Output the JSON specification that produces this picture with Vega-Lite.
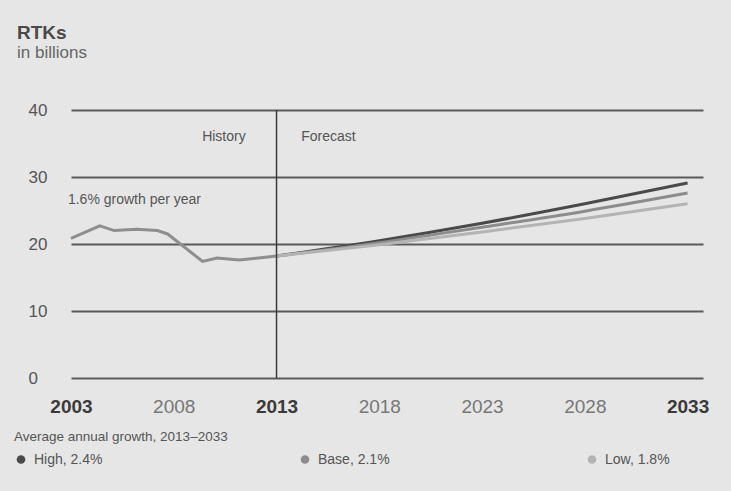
{
  "$schema": "https://vega.github.io/schema/vega-lite/v6.json",
  "width": 632,
  "height": 268,
  "autosize": {"type": "none"},
  "padding": {"left": 71, "top": 110, "right": 28, "bottom": 113},
  "background": "#e6e6e6",
  "config": {
    "view": {"stroke": null},
    "font": "Liberation Sans",
    "text": {"font": "Liberation Sans"}
  },
  "title": {
    "text": "RTKs",
    "subtitle": "in billions",
    "anchor": "start",
    "dx": 3,
    "offset": 40,
    "fontSize": 19,
    "fontWeight": "bold",
    "color": "#4a4a4a",
    "subtitleFontSize": 17,
    "subtitleColor": "#666666",
    "subtitlePadding": 2
  },
  "datasets": {
    "history": [
      {"year": 2003.0, "rtk": 20.85},
      {"year": 2004.4, "rtk": 22.7},
      {"year": 2005.1, "rtk": 22.0},
      {"year": 2006.2, "rtk": 22.2},
      {"year": 2007.2, "rtk": 22.0},
      {"year": 2007.7, "rtk": 21.5},
      {"year": 2009.4, "rtk": 17.4},
      {"year": 2010.1, "rtk": 17.9},
      {"year": 2011.2, "rtk": 17.6},
      {"year": 2013.0, "rtk": 18.2}
    ],
    "forecast": [
      {"year": 2013, "scenario": "High, 2.4%", "rtk": 18.2},
      {"year": 2018, "scenario": "High, 2.4%", "rtk": 20.5},
      {"year": 2023, "scenario": "High, 2.4%", "rtk": 23.1},
      {"year": 2028, "scenario": "High, 2.4%", "rtk": 26.0},
      {"year": 2033, "scenario": "High, 2.4%", "rtk": 29.1},
      {"year": 2013, "scenario": "Base, 2.1%", "rtk": 18.2},
      {"year": 2018, "scenario": "Base, 2.1%", "rtk": 20.2},
      {"year": 2023, "scenario": "Base, 2.1%", "rtk": 22.5},
      {"year": 2028, "scenario": "Base, 2.1%", "rtk": 24.9},
      {"year": 2033, "scenario": "Base, 2.1%", "rtk": 27.6},
      {"year": 2013, "scenario": "Low, 1.8%", "rtk": 18.2},
      {"year": 2018, "scenario": "Low, 1.8%", "rtk": 19.9},
      {"year": 2023, "scenario": "Low, 1.8%", "rtk": 21.8},
      {"year": 2028, "scenario": "Low, 1.8%", "rtk": 23.8},
      {"year": 2033, "scenario": "Low, 1.8%", "rtk": 26.0}
    ]
  },
  "layer": [
    {
      "data": {"name": "history"},
      "mark": {"type": "line", "color": "#8e8e8e", "strokeWidth": 3},
      "encoding": {
        "x": {
          "field": "year",
          "type": "quantitative",
          "scale": {"domain": [2003, 2033.75], "nice": false, "zero": false},
          "axis": {
            "values": [2003, 2008, 2013, 2018, 2023, 2028, 2033],
            "format": "d",
            "title": null,
            "grid": false,
            "domain": false,
            "ticks": false,
            "tickSize": 0,
            "labelPadding": 19,
            "labelFontSize": 19,
            "labelFlush": false,
            "labelFontWeight": {"condition": {"test": "datum.value == 2003 || datum.value == 2013 || datum.value == 2033", "value": "bold"}, "value": "normal"},
            "labelColor": {"condition": {"test": "datum.value == 2003 || datum.value == 2013 || datum.value == 2033", "value": "#3a3a3a"}, "value": "#777777"}
          }
        },
        "y": {
          "field": "rtk",
          "type": "quantitative",
          "scale": {"domain": [0, 40], "nice": false},
          "axis": {
            "values": [0, 10, 20, 30, 40],
            "title": null,
            "grid": true,
            "gridColor": "#5a5a5a",
            "gridWidth": 2,
            "gridOpacity": 1,
            "domain": false,
            "ticks": false,
            "tickSize": 0,
            "labelAlign": "left",
            "labelPadding": 43,
            "labelFontSize": 17,
            "labelColor": "#555555"
          }
        }
      }
    },
    {
      "data": {"name": "forecast"},
      "mark": {"type": "line", "strokeWidth": 3, "interpolate": "monotone"},
      "encoding": {
        "x": {"field": "year", "type": "quantitative"},
        "y": {"field": "rtk", "type": "quantitative"},
        "color": {
          "field": "scenario",
          "type": "nominal",
          "scale": {"domain": ["High, 2.4%", "Base, 2.1%", "Low, 1.8%"], "range": ["#4a4a4a", "#8c8c8c", "#b4b4b4"]},
          "legend": {
            "title": "Average annual growth, 2013–2033",
            "orient": "none",
            "legendX": -57,
            "legendY": 320,
            "direction": "horizontal",
            "titleFontSize": 13.5,
            "titleFontWeight": "normal",
            "titleColor": "#555555",
            "titlePadding": 9,
            "titleLimit": 500,
            "labelFontSize": 14,
            "labelColor": "#555555",
            "labelOffset": 6,
            "symbolType": "circle",
            "symbolSize": 75,
            "columnPadding": 195,
            "symbolOffset": 0,
            "encode": {
              "symbols": {
                "update": {
                  "fill": {"scale": "color", "field": "value"},
                  "fillOpacity": {"value": 1},
                  "strokeWidth": {"value": 0},
                  "size": {"value": 75}
                }
              }
            }
          }
        },
        "detail": {"field": "scenario"},
        "order": {"field": "year"}
      }
    },
    {
      "data": {"values": [{}]},
      "mark": {"type": "rule", "color": "#3a3a3a", "strokeWidth": 1.5},
      "encoding": {
        "x": {"datum": 2013},
        "y": {"datum": 40},
        "y2": {"datum": 0}
      }
    },
    {
      "data": {"values": [{}]},
      "mark": {"type": "text", "align": "right", "baseline": "middle", "fontSize": 14, "color": "#555555"},
      "encoding": {"x": {"datum": 2011.5}, "y": {"datum": 36}, "text": {"value": "History"}}
    },
    {
      "data": {"values": [{}]},
      "mark": {"type": "text", "align": "left", "baseline": "middle", "fontSize": 14, "color": "#555555"},
      "encoding": {"x": {"datum": 2014.2}, "y": {"datum": 36}, "text": {"value": "Forecast"}}
    },
    {
      "data": {"values": [{}]},
      "mark": {"type": "text", "align": "left", "baseline": "middle", "fontSize": 14, "color": "#555555"},
      "encoding": {"x": {"datum": 2002.85}, "y": {"datum": 26.6}, "text": {"value": "1.6% growth per year"}}
    }
  ]
}
